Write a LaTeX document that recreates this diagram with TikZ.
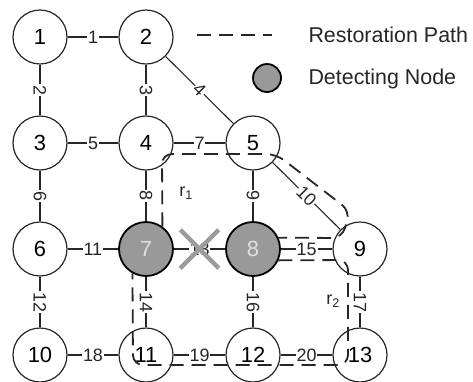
\documentclass[tikz,border=0pt]{standalone}
\usepackage{fontspec}
\setmainfont{Liberation Sans}
\usetikzlibrary{shapes.misc}
\definecolor{detgray}{HTML}{999999}
\definecolor{cutgray}{HTML}{9C9C9C}
\tikzset{
  site/.style={circle, draw=black!85, line width=1.2bp, minimum size=54bp, inner sep=0pt,
    fill=white, font=\fontsize{22}{25}\selectfont},
  detect/.style={site, fill=detgray, draw=black, line width=1.8bp, text=white!88!black},
  link/.style={line width=1.1bp, black!85},
  lab/.style={fill=white, inner sep=1bp, text=black!85, font=\fontsize{18}{20}\selectfont},
  vlab/.style={lab, rotate=-90},
  dlab/.style={lab, sloped},
  restore/.style={line width=1.8bp, black!85, dash pattern=on 14bp off 8bp, rounded corners=10bp},
  tag/.style={font=\fontsize{18}{20}\selectfont, text=black!85},
  keytext/.style={anchor=west, font=\fontsize{21.5}{25}\selectfont, text=black!85}
}
\begin{document}
\begin{tikzpicture}[x=1bp, y=-1bp]
  \useasboundingbox (0,0) rectangle (473,381);

  \node[site]   (n1)  at (40,37)   {1};
  \node[site]   (n2)  at (146,37)  {2};
  \node[site]   (n3)  at (40,143)  {3};
  \node[site]   (n4)  at (146,143) {4};
  \node[site]   (n5)  at (253,143) {5};
  \node[site]   (n6)  at (40,249)  {6};
  \node[detect] (n7)  at (146,249) {7};
  \node[detect] (n8)  at (253,249) {8};
  \node[site]   (n9)  at (360,249) {9};
  \node[site]   (n10) at (40,355)  {10};
  \node[site]   (n11) at (146,355) {11};
  \node[site]   (n12) at (253,355) {12};
  \node[site]   (n13) at (360,355) {13};

  \draw[link] (n1) -- node[lab]{1} (n2);
  \draw[link] (n1) -- node[vlab]{2} (n3);
  \draw[link] (n2) -- node[vlab]{3} (n4);
  \draw[link] (n2) -- node[dlab]{4} (n5);
  \draw[link] (n3) -- node[lab]{5} (n4);
  \draw[link] (n3) -- node[vlab]{6} (n6);
  \draw[link] (n4) -- node[lab]{7} (n5);
  \draw[link] (n4) -- node[vlab]{8} (n7);
  \draw[link] (n5) -- node[vlab]{9} (n8);
  \draw[link] (n5) -- node[dlab]{10} (n9);
  \draw[link] (n6) -- node[lab]{11} (n7);
  \draw[link] (n6) -- node[vlab]{12} (n10);
  \draw[link] (n7) -- node[lab] (l13) {13} (n8);
  \draw[link] (n7) -- node[vlab]{14} (n11);
  \draw[link] (n8) -- node[lab]{15} (n9);
  \draw[link] (n8) -- node[vlab]{16} (n12);
  \draw[link] (n9) -- node[vlab]{17} (n13);
  \draw[link] (n10) -- node[lab]{18} (n11);
  \draw[link] (n11) -- node[lab]{19} (n12);
  \draw[link] (n12) -- node[lab]{20} (n13);

  % failed link
  \node[cross out, draw=cutgray, line width=4.5bp, minimum size=34bp, inner sep=0pt] (cut) at (l13) {};

  % restoration paths
  \draw[restore] (n7.54) -- (162,154) -- (276,154) -- (350,211) -- (342,238) -- (n8.24);
  \draw[restore] (n8.-24) -- (348,260) -- (348,365) -- (133,365) -- (n7.-119);
  \node[tag] (r1) at (186,193) {r\textsubscript{1}};
  \node[tag] (r2) at (333,301) {r\textsubscript{2}};

  % legend
  \coordinate (keyA) at (197,35);
  \coordinate (keyB) at (272,35);
  \draw[restore] (keyA) -- (keyB);
  \node[detect, minimum size=28bp] (keydot) at (267,78) {};
  \node[keytext] (keypath) at (305,35) {Restoration Path};
  \node[keytext] (keynode) at (305,79) {Detecting Node};
\end{tikzpicture}
\end{document}
